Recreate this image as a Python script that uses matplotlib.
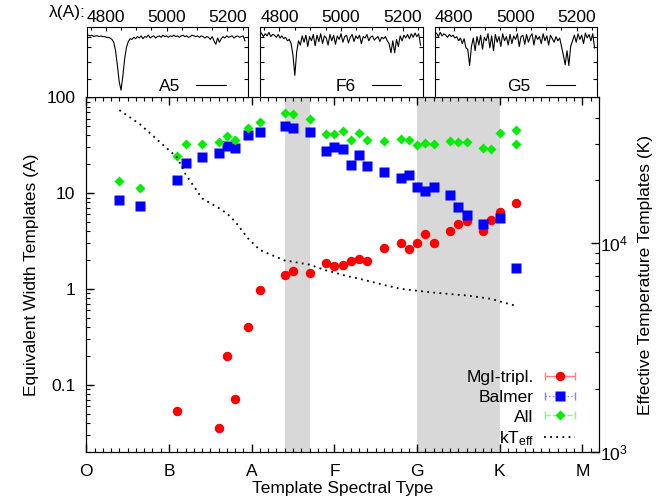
import numpy as np
import matplotlib
matplotlib.use('Agg')
import matplotlib.pyplot as plt
from matplotlib.ticker import MultipleLocator, FuncFormatter, NullFormatter, FixedLocator
from matplotlib.container import ErrorbarContainer
from matplotlib.legend_handler import HandlerErrorbar

plt.rcParams['font.family'] = ['Liberation Sans', 'DejaVu Sans']
plt.rcParams['font.size'] = 12.5
plt.rcParams['mathtext.default'] = 'regular'

# spectral classes on the x axis (O=0 ... M=6, subtypes as tenths)
classes = ['O', 'B', 'A', 'F', 'G', 'K', 'M']

# equivalent widths of the templates
x_mg = [1.1, 1.6, 1.7, 1.8, 1.95, 2.1, 2.4, 2.5, 2.7, 2.9, 3.0, 3.1, 3.2, 3.3, 3.4,
        3.6, 3.8, 3.9, 4.0, 4.1, 4.2, 4.4, 4.5, 4.6, 4.8, 4.9, 5.0, 5.2]
ew_mg = [0.054, 0.036, 0.199, 0.072, 0.407, 0.977, 1.39, 1.54, 1.47, 1.88, 1.75, 1.79,
         1.97, 2.07, 1.97, 2.67, 3.01, 2.59, 3.03, 3.77, 3.0, 4.02, 4.79, 5.14, 4.02,
         5.27, 6.38, 7.98]

x_balmer = [0.4, 0.65, 1.1, 1.2, 1.4, 1.6, 1.7, 1.8, 1.95, 2.1, 2.4, 2.5, 2.7, 2.9, 3.0,
            3.1, 3.2, 3.3, 3.4, 3.6, 3.8, 3.9, 4.0, 4.1, 4.2, 4.4, 4.5, 4.6, 4.8, 5.0, 5.2]
ew_balmer = [8.5, 7.4, 13.8, 20.8, 23.9, 26.3, 31.3, 29.6, 40.5, 43.5, 50.6, 47.9, 43.5,
             27.8, 30.6, 28.9, 19.9, 25.1, 19.4, 16.8, 14.5, 15.3, 11.7, 10.6, 11.7, 9.6,
             7.26, 5.94, 4.82, 5.57, 1.64]

x_all = [0.4, 0.65, 1.1, 1.2, 1.4, 1.6, 1.7, 1.8, 1.95, 2.1, 2.4, 2.5, 2.7, 2.9, 3.0, 3.1,
         3.2, 3.3, 3.4, 3.6, 3.8, 3.9, 4.0, 4.1, 4.2, 4.4, 4.5, 4.6, 4.8, 4.9, 5.0, 5.2, 5.2]
ew_all = [13.4, 11.4, 24.5, 32.9, 32.9, 34.0, 39.2, 35.6, 48.2, 55.3, 68.6, 66.5, 60.0,
          41.2, 41.8, 44.6, 35.6, 42.5, 35.6, 34.8, 36.8, 36.1, 31.6, 33.2, 32.9, 34.8,
          34.2, 34.0, 29.8, 28.9, 42.5, 46.0, 32.6]

# effective temperature of the templates (right axis)
x_teff = [0.4, 0.65, 1.1, 1.2, 1.4, 1.6, 1.7, 1.8, 1.95, 2.1, 2.4, 2.5, 2.7, 2.9, 3.0, 3.1,
          3.2, 3.3, 3.4, 3.6, 3.8, 3.9, 4.0, 4.1, 4.2, 4.4, 4.5, 4.6, 4.8, 4.9, 5.0, 5.2]
teff = [43400, 37100, 25700, 21400, 16400, 14750, 13900, 12700, 10600, 9270, 8260, 8150,
        7890, 7410, 7240, 7050, 6890, 6760, 6610, 6310, 6050, 5980, 5920, 5860, 5800,
        5710, 5660, 5620, 5480, 5410, 5260, 5010]

# shaded ranges of spectral types
bands = [(2.4, 2.7), (4.0, 5.0)]

# example template spectra (normalised flux in the small panels)
wave = [4736, 4742, 4748, 4754, 4760, 4766, 4772, 4778, 4784, 4790,
        4796, 4802, 4808, 4814, 4820, 4826, 4832, 4838, 4844, 4850,
        4856, 4862, 4868, 4874, 4880, 4886, 4892, 4898, 4904, 4910,
        4916, 4922, 4928, 4934, 4940, 4946, 4952, 4958, 4964, 4970,
        4976, 4982, 4988, 4994, 5000, 5006, 5012, 5018, 5024, 5030,
        5036, 5042, 5048, 5054, 5060, 5066, 5072, 5078, 5084, 5090,
        5096, 5102, 5108, 5114, 5120, 5126, 5132, 5138, 5144, 5150,
        5156, 5162, 5168, 5174, 5180, 5186, 5192, 5198, 5204, 5210,
        5216, 5222, 5228, 5234, 5240, 5246, 5252, 5258]
flux_a5 = [0.87, 0.88, 0.87, 0.88, 0.86, 0.87, 0.87, 0.86, 0.87, 0.86,
           0.86, 0.85, 0.85, 0.84, 0.82, 0.78, 0.66, 0.45, 0.22, 0.10,
           0.30, 0.55, 0.71, 0.79, 0.83, 0.82, 0.85, 0.83, 0.86, 0.84,
           0.87, 0.83, 0.86, 0.85, 0.88, 0.84, 0.86, 0.87, 0.84, 0.86,
           0.87, 0.85, 0.88, 0.86, 0.87, 0.85, 0.87, 0.86, 0.88, 0.86,
           0.87, 0.85, 0.87, 0.88, 0.86, 0.87, 0.85, 0.86, 0.88, 0.87,
           0.86, 0.87, 0.85, 0.87, 0.86, 0.84, 0.86, 0.85, 0.82, 0.86,
           0.80, 0.75, 0.84, 0.78, 0.83, 0.86, 0.84, 0.87, 0.85, 0.86,
           0.87, 0.84, 0.86, 0.87, 0.85, 0.86, 0.87, 0.80]
flux_f6 = [0.88, 0.91, 0.86, 0.90, 0.87, 0.92, 0.86, 0.89, 0.88, 0.85,
           0.89, 0.84, 0.87, 0.83, 0.85, 0.80, 0.82, 0.76, 0.60, 0.31,
           0.64, 0.80, 0.74, 0.87, 0.78, 0.88, 0.72, 0.86, 0.80, 0.89,
           0.73, 0.88, 0.79, 0.90, 0.76, 0.87, 0.84, 0.74, 0.89, 0.80,
           0.88, 0.75, 0.87, 0.82, 0.90, 0.78, 0.86, 0.88, 0.77, 0.85,
           0.89, 0.79, 0.87, 0.83, 0.88, 0.76, 0.86, 0.84, 0.89, 0.80,
           0.85, 0.87, 0.81, 0.84, 0.86, 0.79, 0.85, 0.83, 0.86, 0.80,
           0.76, 0.63, 0.80, 0.63, 0.82, 0.72, 0.87, 0.80, 0.88, 0.84,
           0.89, 0.83, 0.90, 0.85, 0.91, 0.86, 0.90, 0.74]
flux_g5 = [0.89, 0.91, 0.86, 0.92, 0.87, 0.90, 0.88, 0.85, 0.89, 0.86,
           0.88, 0.84, 0.86, 0.80, 0.84, 0.76, 0.83, 0.70, 0.68, 0.45,
           0.72, 0.84, 0.66, 0.86, 0.74, 0.88, 0.68, 0.85, 0.80, 0.90,
           0.70, 0.87, 0.66, 0.89, 0.78, 0.86, 0.72, 0.90, 0.80, 0.86,
           0.74, 0.89, 0.76, 0.87, 0.82, 0.90, 0.72, 0.86, 0.88, 0.75,
           0.89, 0.78, 0.86, 0.90, 0.74, 0.88, 0.82, 0.86, 0.76, 0.90,
           0.80, 0.87, 0.74, 0.88, 0.83, 0.78, 0.86, 0.80, 0.84, 0.72,
           0.60, 0.46, 0.66, 0.45, 0.72, 0.80, 0.88, 0.78, 0.90, 0.82,
           0.88, 0.76, 0.91, 0.84, 0.89, 0.80, 0.90, 0.70]
spec_names = ['A5', 'F6', 'G5']
spec_flux = [flux_a5, flux_f6, flux_g5]

fig = plt.figure(figsize=(6.68, 5.04), dpi=100)

# ---- main panel ----
ax = fig.add_axes([0.1292, 0.1032, 0.7675, 0.7038])
for lo, hi in bands:
    ax.axvspan(lo, hi, color='#d8d8d8', lw=0, zorder=0)

ax.plot(x_mg, ew_mg, 'o', color='#ff0000', ms=6.8, mec='none', zorder=3)
ax.plot(x_balmer, ew_balmer, 's', color='#0000ff', ms=6.5, mec='none', zorder=4)
ax.plot(x_all, ew_all, 'D', color='#00ee00', ms=4.6, mec='none', zorder=5)

ax.set_yscale('log')
ax.set_ylim(0.02, 100)
ax.set_xlim(0, 6.2)
ax.set_xticks(range(len(classes)))
ax.set_xticklabels(classes)
ax.xaxis.set_minor_locator(MultipleLocator(0.1))
ax.yaxis.set_major_formatter(FuncFormatter(lambda v, p: '%g' % v))
ax.yaxis.set_minor_formatter(NullFormatter())
ax.tick_params(which='both', direction='in', top=True, right=False)
ax.tick_params(which='major', length=6, width=1)
ax.tick_params(which='minor', length=3, width=0.8)
ax.tick_params(axis='x', pad=9)
ax.tick_params(axis='y', pad=8)
ax.set_xlabel('Template Spectral Type', labelpad=1)
ax.set_ylabel('Equivalent Width Templates (A)', labelpad=5)

ax2 = ax.twinx()
ax2.plot(x_teff, teff, ls=(0, (1, 2.4)), color='black', lw=1.3, label='kT$_{eff}$')
ax2.set_yscale('log')
ax2.set_ylim(1000, 50000)
ax2.yaxis.set_minor_formatter(NullFormatter())
ax2.tick_params(which='both', direction='in', pad=1)
ax2.tick_params(which='major', length=6, width=1)
ax2.tick_params(which='minor', length=3, width=0.8)
ax2.set_ylabel('Effective Temperature Templates (K)', labelpad=7)

# legend proxies in the gnuplot errorbar style
nan = [np.nan]
h_mg = ax.errorbar(nan, nan, xerr=[1], fmt='o', color='#ff0000', ms=6.8, mec='none',
                   ecolor='#ff8080', elinewidth=1, capsize=3)
h_ba = ax.errorbar(nan, nan, xerr=[1], fmt='s', color='#0000ff', ms=6.5, mec='none',
                   ecolor='#8080ff', elinewidth=1, capsize=3)
h_ba[2][0].set_linestyle(':')
h_al = ax.errorbar(nan, nan, xerr=[1], fmt='D', color='#00ee00', ms=4.6, mec='none',
                   ecolor='#80ff80', elinewidth=1, capsize=3)
h_al[2][0].set_linestyle('--')
h_kt = ax2.get_lines()[0]
ax2.legend([h_mg, h_ba, h_al, h_kt], ['MgI-tripl.', 'Balmer', 'All', 'kT$_{eff}$'],
           loc='lower right', bbox_to_anchor=(0.954, 0.012), frameon=False,
           markerfirst=False, handlelength=1.8, handletextpad=0.6, labelspacing=0.26,
           borderpad=0, borderaxespad=0,
           handler_map={ErrorbarContainer: HandlerErrorbar(xerr_size=0.85)})

# ---- spectra panels on top ----
panels = [[0.1298, 0.807, 0.2410, 0.140],
          [0.3892, 0.807, 0.2445, 0.140],
          [0.6512, 0.807, 0.2430, 0.140]]
for rect, name, flux in zip(panels, spec_names, spec_flux):
    sp = fig.add_axes(rect)
    sp.plot(wave, flux, color='black', lw=0.8, label=name)
    sp.set_xlim(4737, 5267)
    sp.set_ylim(0, 1)
    sp.set_xticks([4800, 5000, 5200])
    sp.xaxis.set_minor_locator(MultipleLocator(50))
    sp.yaxis.set_major_locator(FixedLocator([0.26, 0.5, 0.71, 0.85]))
    sp.set_yticklabels([])
    sp.tick_params(which='both', direction='in', top=True, bottom=False,
                   labeltop=True, labelbottom=False, left=True, right=True, pad=1)
    sp.tick_params(which='major', length=3, width=0.8)
    sp.tick_params(which='minor', length=2, width=0.8)
    sp.legend(loc='lower right', bbox_to_anchor=(0.865, 0.04), frameon=False,
              markerfirst=False, handlelength=1.7, handletextpad=0.9,
              borderpad=0, borderaxespad=0)

fig.text(0.1285, 0.976, 'λ(A):', ha='right', va='center')

fig.savefig('out.png', dpi=100)
